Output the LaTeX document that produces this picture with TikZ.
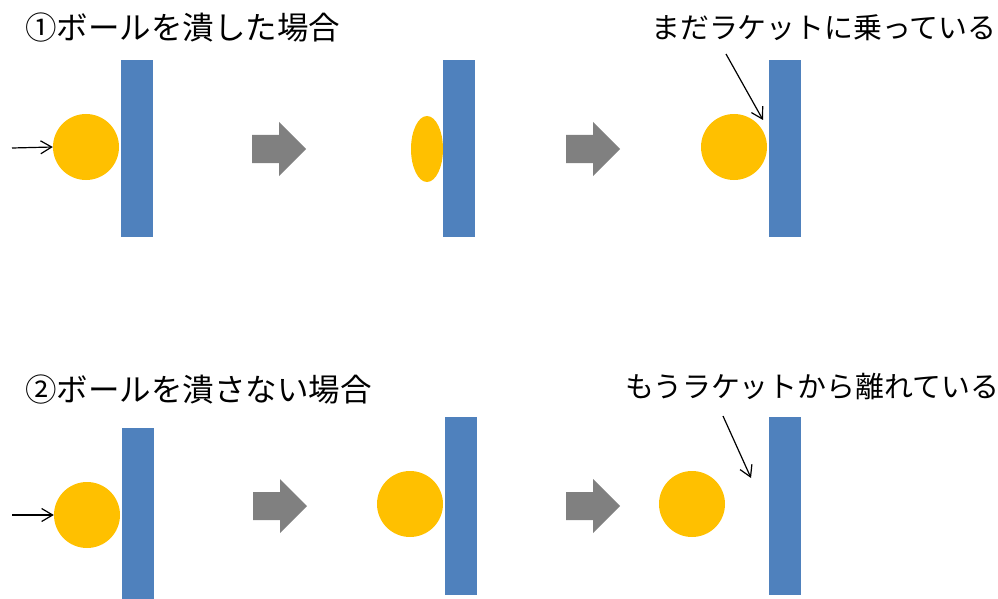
\documentclass[tikz,border=0pt]{standalone}
\usepackage{fontspec}
\setmainfont{Noto Sans CJK JP}
\usetikzlibrary{arrows.meta,shapes.geometric}
\definecolor{racketblue}{RGB}{79,129,189}
\definecolor{ballyellow}{RGB}{255,192,0}
\definecolor{arrowgray}{RGB}{128,128,128}
\tikzset{
  racket/.style={fill=racketblue,draw=none,inner sep=0pt,minimum width=32pt,minimum height=#1,anchor=north west},
  ball/.style={circle,fill=ballyellow,draw=none,inner sep=0pt,minimum size=66pt},
  squashed/.style={ellipse,fill=ballyellow,draw=none,inner sep=0pt,minimum width=32pt,minimum height=66pt},
  thinarrow/.style={line width=1.2pt,-{Straight Barb[length=11pt,width=13pt,line width=1.2pt]}},
  title/.style={anchor=base west,inner sep=0pt,font=\fontsize{31.5pt}{36pt}\selectfont},
  note/.style={anchor=base west,inner sep=0pt,font=\fontsize{28.9pt}{34pt}\selectfont},
}
\newcommand{\grayarrow}[2]{% #1 = left x, #2 = center y
  \fill[arrowgray] (#1,#2-14) -- (#1+27,#2-14) -- (#1+27,#2-27) -- (#1+54,#2) -- (#1+27,#2+27) -- (#1+27,#2+14) -- (#1,#2+14) -- cycle;}
\begin{document}
\begin{tikzpicture}[x=1pt,y=-1pt]
\useasboundingbox (0,0) rectangle (998,599);
% ---- row 1 ----
\node[title] (t1) at (25,39.5) {①ボールを潰した場合};
\node[racket=177pt] (r1) at (121,60) {};
\node[ball] (b1) at (86,147) {};
\coordinate (s1) at (12,148);
\draw[thinarrow] (s1) -- (b1.west);
\grayarrow{252}{149}
\node[racket=177pt] (r2) at (443,60) {};
\node[squashed] (b2) at (427,149) {};
\grayarrow{566}{149}
\node[racket=177pt] (r3) at (769,60) {};
\node[ball] (b3) at (734,147) {};
\node[note] (n1) at (651,38.5) {まだラケットに乗っている};
\coordinate (p1s) at (726,54);
\coordinate (p1e) at (763,120);
\draw[thinarrow] (p1s) -- (p1e);
% ---- row 2 ----
\node[title] (t2) at (25,401.5) {②ボールを潰さない場合};
\node[racket=171pt] (r4) at (122,428) {};
\node[ball] (b4) at (87,515) {};
\coordinate (s2) at (12,515);
\draw[thinarrow] (s2) -- (b4.west);
\grayarrow{253}{506}
\node[racket=178pt] (r5) at (445,417) {};
\node[ball] (b5) at (410,504) {};
\grayarrow{566}{506}
\node[racket=178pt] (r6) at (769,417) {};
\node[ball] (b6) at (692,504) {};
\node[note] (n2) at (625,397.5) {もうラケットから離れている};
\coordinate (p2s) at (723,416);
\coordinate (p2e) at (751,478);
\draw[thinarrow] (p2s) -- (p2e);
\end{tikzpicture}
\end{document}
